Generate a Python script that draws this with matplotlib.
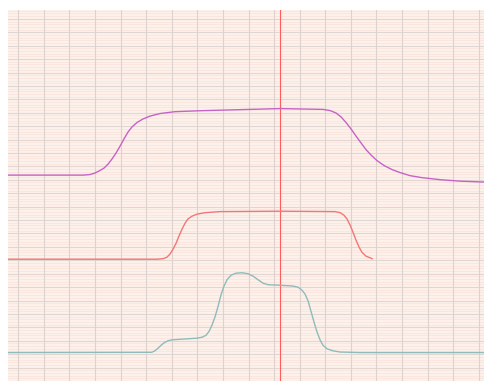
"""
Draw three stacked signal traces on a paper-style grid.
"""

import numpy as np
import matplotlib.pyplot as plt

# time axis positions (grid divisions) and trace levels
UPPER_T = [-0.40, 1.63, 2.53, 2.80, 2.99, 3.19, 3.35, 3.51, 3.66, 3.82, 3.98,
           4.13, 4.29, 4.44, 4.64, 4.87, 5.15, 5.54, 6.13, 7.10, 9.06, 10.24,
           11.91, 12.19, 12.42, 12.62, 12.81, 13.01, 13.20, 13.40, 13.59,
           13.79, 14.02, 14.30, 14.61, 14.92, 15.31, 15.78, 16.49, 17.27,
           18.24]
UPPER_V = [15.35, 15.35, 15.35, 15.39, 15.50, 15.69, 15.87, 16.17, 16.54,
           16.99, 17.51, 18.04, 18.56, 18.93, 19.27, 19.53, 19.75, 19.94,
           20.08, 20.15, 20.25, 20.31, 20.25, 20.16, 19.98, 19.68, 19.27,
           18.78, 18.26, 17.74, 17.25, 16.84, 16.43, 16.06, 15.76, 15.54,
           15.31, 15.16, 15.01, 14.90, 14.83]

MIDDLE_T = [-0.40, 5.42, 5.66, 5.81, 5.93, 6.05, 6.17, 6.28, 6.40, 6.52, 6.63,
            6.79, 6.99, 7.30, 7.89, 10.24, 12.38, 12.58, 12.73, 12.85, 12.97,
            13.08, 13.20, 13.32, 13.43, 13.59, 13.83]
MIDDLE_V = [9.08, 9.08, 9.12, 9.23, 9.46, 9.83, 10.28, 10.80, 11.32, 11.77,
            12.07, 12.29, 12.44, 12.55, 12.63, 12.66, 12.63, 12.55, 12.36,
            12.07, 11.62, 11.10, 10.50, 9.98, 9.60, 9.31, 9.12]

LOWER_T = [-0.40, 5.22, 5.34, 5.46, 5.58, 5.70, 5.85, 6.01, 6.32, 6.97, 7.18,
           7.34, 7.46, 7.57, 7.69, 7.81, 7.92, 8.04, 8.16, 8.32, 8.51, 8.75,
           8.98, 9.18, 9.37, 9.57, 9.76, 10.23, 10.74, 10.94, 11.09, 11.21,
           11.33, 11.44, 11.56, 11.68, 11.80, 11.91, 12.07, 12.30, 12.58,
           13.36, 18.24]
LOWER_V = [2.12, 2.14, 2.25, 2.44, 2.66, 2.85, 3.00, 3.07, 3.11, 3.19, 3.26,
           3.41, 3.71, 4.16, 4.78, 5.57, 6.40, 7.07, 7.55, 7.89, 8.04, 8.07,
           8.00, 7.81, 7.55, 7.29, 7.18, 7.14, 7.08, 6.99, 6.77, 6.47, 5.95,
           5.20, 4.38, 3.63, 3.04, 2.66, 2.40, 2.25, 2.16, 2.12, 2.12]

CURSOR_T = 10.24


def draw_traces() -> None:
    """Plot the traces over a fine grid with a cursor line."""
    fig = plt.figure(figsize=(4.85, 3.81), dpi=100)
    ax = fig.add_axes([8 / 485, 0, 477 / 485, 371 / 381])
    ax.set_facecolor("#fdf1eb")
    ax.set_xlim(-0.40, 18.24)
    ax.set_ylim(0, 27.66)

    # fine horizontal rules, then the heavier divisions
    for y in np.arange(0, 27.66, 0.2):
        ax.axhline(y, color="#fae2da", lw=0.5, zorder=0)
    for y in range(0, 28):
        ax.axhline(y, color="#e2d6d2", lw=0.8, zorder=1)
    for x in range(0, 19):
        ax.axvline(x, color="#ddd2ce", lw=0.8, zorder=1)

    ax.axvline(CURSOR_T, color="#ff5c5c", lw=0.8, zorder=3)

    ax.plot(UPPER_T, UPPER_V, color="#c663c6", lw=1.0, zorder=4)
    ax.plot(MIDDLE_T, MIDDLE_V, color="#f27777", lw=1.0, zorder=4)
    ax.plot(LOWER_T, LOWER_V, color="#8fbbba", lw=1.0, zorder=4)

    ax.set_xticks([])
    ax.set_yticks([])
    for spine in ax.spines.values():
        spine.set_visible(False)

    fig.savefig("out.png", dpi=100, facecolor="white")


if __name__ == "__main__":
    draw_traces()
